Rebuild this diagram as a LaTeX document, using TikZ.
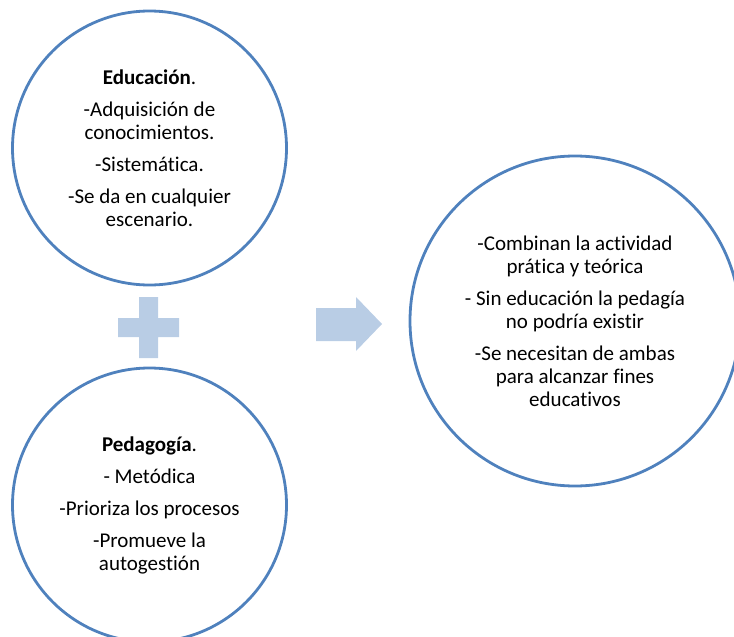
\documentclass[tikz,border=0pt]{standalone}
\usepackage{fontspec}
\setmainfont{Carlito}[Ligatures={NoCommon}]
\definecolor{ringblue}{HTML}{4F81BD}
\definecolor{shapeblue}{HTML}{B9CDE5}
\tikzset{
  ring/.style={circle, draw=ringblue, line width=2.8pt, align=center, inner sep=0pt,
    font=\fontsize{21}{23}\selectfont, text=black},
  symbolfill/.style={fill=shapeblue, draw=none}
}
\begin{document}
\begin{tikzpicture}[x=1pt,y=-1pt]
\useasboundingbox (0,0) rectangle (734,637);
\clip (0,0) rectangle (734,637);
\node[ring, minimum size=274pt] (edu) at (149.5,148)
  {\textbf{Educación}.\\[9pt]-Adquisición de\\conocimientos.\\[9pt]-Sistemática.\\[9pt]-Se da en cualquier\\escenario.};
\node[ring, minimum size=274pt] (ped) at (149.5,505)
  {\textbf{Pedagogía}.\\[9pt]- Metódica\\[9pt]-Prioriza los procesos\\[9pt]-Promueve la\\autogestión};
\node[ring, minimum size=330pt] (res) at (575,321)
  {-Combinan la actividad\\prática y teórica\\[9pt]- Sin educación la pedagía\\no podría existir\\[9pt]-Se necesitan de ambas\\para alcanzar fines\\educativos};
% plus sign
\fill[symbolfill] (139,297) -- (158,297) -- (158,318) -- (179,318) -- (179,337) -- (158,337)
  -- (158,358) -- (139,358) -- (139,337) -- (118,337) -- (118,318) -- (139,318) -- cycle;
% arrow
\fill[symbolfill] (316,308) -- (356,308) -- (356,297) -- (382,324) -- (356,351) -- (356,341)
  -- (316,341) -- cycle;
\end{tikzpicture}
\end{document}
